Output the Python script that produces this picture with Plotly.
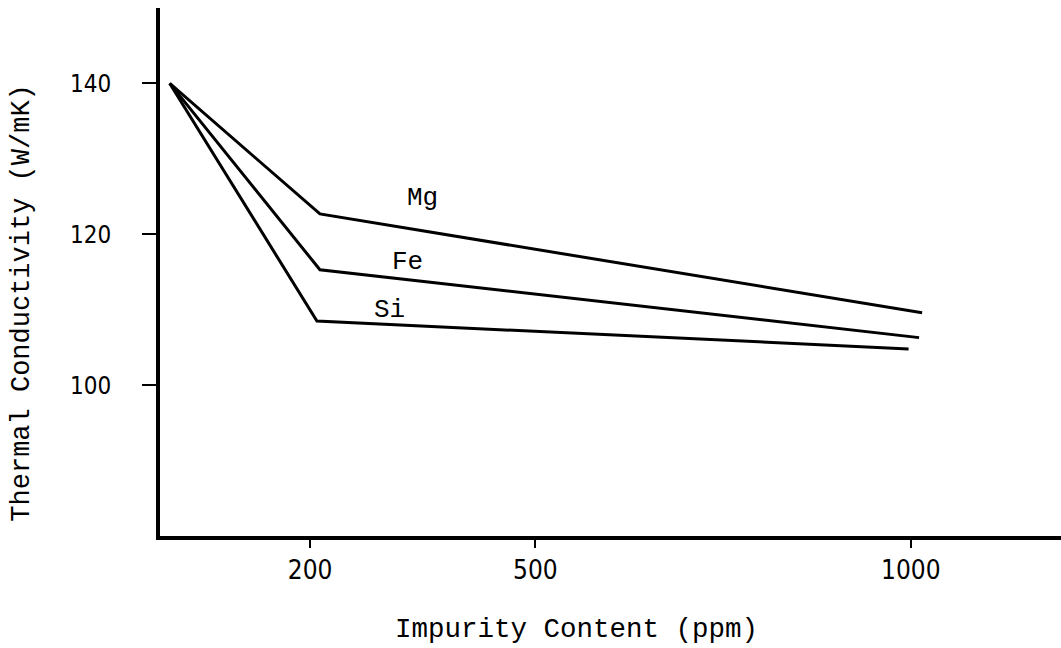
import plotly.graph_objects as go

# Data (impurity content in ppm, thermal conductivity in W/mK)
mg_x = [13, 213, 1015]
mg_y = [140.0, 122.7, 109.6]
fe_x = [13, 213, 1011]
fe_y = [140.0, 115.3, 106.3]
si_x = [13, 209, 997]
si_y = [140.0, 108.5, 104.8]

series_names = ["Mg", "Fe", "Si"]
label_x = [350, 330, 306]
label_y = [124.8, 116.3, 110.0]

x_ticks = [200, 500, 1000]
y_ticks = [100, 120, 140]

x_title = "Impurity Content (ppm)"
y_title = "Thermal Conductivity (W/mK)"

mono = "Liberation Mono, Courier New, monospace"
sans = "DejaVu Sans Condensed, DejaVu Sans, sans-serif"

fig = go.Figure()
for xs, ys, name in [(mg_x, mg_y, "Mg"), (fe_x, fe_y, "Fe"), (si_x, si_y, "Si")]:
    fig.add_trace(go.Scatter(x=xs, y=ys, mode="lines", name=name,
                             line=dict(color="black", width=3),
                             showlegend=False, hoverinfo="skip"))

for name, lx, ly in zip(series_names, label_x, label_y):
    fig.add_annotation(x=lx, y=ly, text=name, showarrow=False,
                       font=dict(family=mono, size=26, color="black"),
                       xanchor="center", yanchor="middle")

# axis titles
fig.add_annotation(xref="paper", yref="paper", x=0.462, y=0, yshift=-93,
                   text=x_title, showarrow=False, xanchor="center", yanchor="middle",
                   font=dict(family=mono, size=27.5, color="black"))
fig.add_annotation(xref="paper", yref="paper", x=0, xshift=-138, y=0.44,
                   text=y_title, showarrow=False, textangle=-90,
                   xanchor="center", yanchor="middle",
                   font=dict(family=mono, size=27, color="black"))

fig.update_layout(
    width=1061, height=648,
    margin=dict(l=160, r=0, t=8, b=112),
    paper_bgcolor="white", plot_bgcolor="white",
    xaxis=dict(range=[0, 1200], tickvals=x_ticks, ticktext=[str(v) for v in x_ticks],
               showgrid=False, zeroline=False, showline=True, linecolor="black", linewidth=4,
               ticks="outside", ticklen=8, tickwidth=2, tickcolor="black",
               ticklabelstandoff=0,
               tickfont=dict(family=sans, size=26, color="black")),
    yaxis=dict(range=[80, 150], tickvals=y_ticks, ticktext=[str(v) for v in y_ticks],
               showgrid=False, zeroline=False, showline=True, linecolor="black", linewidth=4,
               ticks="outside", ticklen=14, tickwidth=2, tickcolor="black",
               ticklabelstandoff=26,
               tickfont=dict(family=sans, size=24, color="black")),
)

fig.write_html("out.html")
